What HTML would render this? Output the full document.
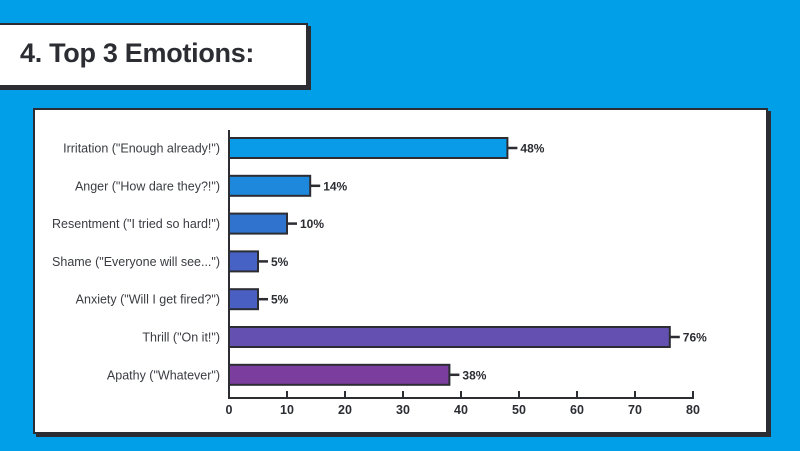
<!DOCTYPE html>
<html><head><meta charset="utf-8"><style>
body{margin:0;width:800px;height:451px;background:#019FE8;overflow:hidden;font-family:"Liberation Sans",sans-serif;position:relative}
#title{position:absolute;left:-4px;top:23px;width:308px;height:60px;background:#fff;border:2px solid #2b2d33;box-shadow:3px 3px 0 #2b2d33;}
#title span{position:absolute;left:22px;top:13px;font-size:27px;font-weight:bold;color:#2b2d33;letter-spacing:-0.3px}
#card{position:absolute;left:33px;top:108px;width:731px;height:322px;background:#fff;border:2px solid #2b2d33;box-shadow:3px 3px 0 #2b2d33;}
svg{position:absolute;left:0;top:0}
</style></head><body>
<div id="title"><span>4. Top 3 Emotions:</span></div>
<div id="card"></div>
<svg id="chart" width="800" height="451"></svg>
<script>
const categories=['Irritation ("Enough already!")','Anger ("How dare they?!")','Resentment ("I tried so hard!")','Shame ("Everyone will see...")','Anxiety ("Will I get fired?")','Thrill ("On it!")','Apathy ("Whatever")'];
const values=[48,14,10,5,5,76,38];
const colors=['#0A9BE8','#1E88DC','#2F73CF','#4662C4','#4A5FC2','#6450B0','#7B3E9E'];
const ticks=[0,10,20,30,40,50,60,70,80];
const NS='http://www.w3.org/2000/svg';
const svg=document.getElementById('chart');
const x0=229,x1=693,yTop=130,yBase=398,rowH=37.8,firstC=148,barH=20;
const xs=v=>x0+(v-0)/(80-0)*(x1-x0);
const yc=i=>firstC+i*rowH;
function mk(t,a){const e=document.createElementNS(NS,t);for(const k in a)e.setAttribute(k,a[k]);svg.appendChild(e);return e;}
categories.forEach((c,i)=>{
  const y=yc(i);
  const r=mk('rect',{x:x0,y:y-barH/2,width:xs(values[i])-x0,height:barH,fill:colors[i],stroke:'#2b2d33','stroke-width':2});
  
  
  const l=mk('line',{x1:xs(values[i]),x2:xs(values[i])+10,y1:y,y2:y,stroke:'#2b2d33','stroke-width':2.5});
  
  
  const v=mk('text',{x:xs(values[i])+13,y:y+4.5,'font-size':12,'font-weight':'bold',fill:'#2b2d33'});
  v.textContent=values[i]+'%';
  
  
  const t=mk('text',{x:220,y:y+4.5,'font-size':12.5,'text-anchor':'end',fill:'#3a3c42'});
  t.textContent=c;
  
  
});
const ya=mk('line',{x1:x0,x2:x0,y1:yTop,y2:yBase,stroke:'#2b2d33','stroke-width':2});


const xa=mk('line',{x1:x0-1,x2:x1+1,y1:yBase,y2:yBase,stroke:'#2b2d33','stroke-width':2});


ticks.forEach(tv=>{
  const tk=mk('line',{x1:xs(tv),x2:xs(tv),y1:yBase-7,y2:yBase,stroke:'#2b2d33','stroke-width':2});
  
  
  const tl=mk('text',{x:xs(tv),y:yBase+16,'font-size':12.5,'font-weight':'bold','text-anchor':'middle',fill:'#2b2d33'});
  tl.textContent=tv;
  
  
});
</script>
</body></html>
